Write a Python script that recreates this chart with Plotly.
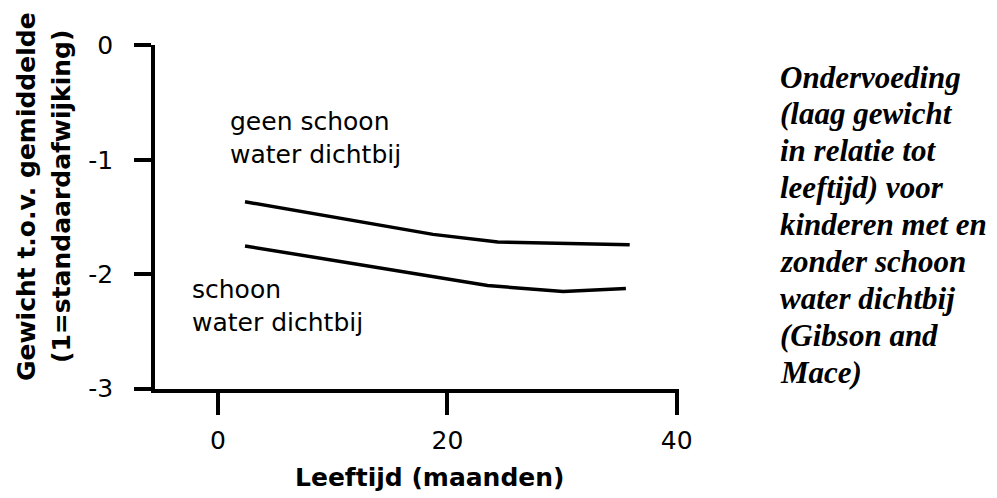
import plotly.graph_objects as go

# leeftijd in maanden, gewicht als z-score
age_geen = [2.35, 18.75, 24.4, 35.9]
z_geen = [-1.367, -1.652, -1.718, -1.742]

age_schoon = [2.35, 23.5, 30.1, 35.57]
z_schoon = [-1.753, -2.099, -2.151, -2.125]

x_ticks = [0, 20, 40]
y_ticks = [0, -1, -2, -3]
y_labels = ['0', '-1', '-2', '-3']

side_lines = ["Ondervoeding", "(laag gewicht", "in relatie tot", "leeftijd) voor",
              "kinderen met en", "zonder schoon", "water dichtbij", "(Gibson and", "Mace)"]

# de pagina heeft 8px body-marge, dus figuur iets kleiner en marges 8px minder
PAD = 8
W, H = 997 - PAD, 498 - PAD
L, R, T, B = 155 - PAD, 318, 45 - PAD, 109
pw, ph = W - L - R, H - T - B


# schermpixels -> paper coordinaten
def px(x):
    return (x - PAD - L) / pw


def py(y):
    return (H - B - (y - PAD)) / ph


fig = go.Figure()
fig.add_trace(go.Scatter(x=age_geen, y=z_geen, mode='lines',
                         line=dict(color='black', width=3.5), showlegend=False))
fig.add_trace(go.Scatter(x=age_schoon, y=z_schoon, mode='lines',
                         line=dict(color='black', width=3.5), showlegend=False))

sans = 'DejaVu Sans'
annos = []
# labels bij de lijnen
annos.append(dict(x=px(228), y=py(138), xref='paper', yref='paper', xanchor='left', yanchor='middle',
                  text='geen schoon<br>water dichtbij', align='left', showarrow=False,
                  font=dict(family=sans, size=25, color='black')))
annos.append(dict(x=px(190), y=py(306), xref='paper', yref='paper', xanchor='left', yanchor='middle',
                  text='schoon<br>water dichtbij', align='left', showarrow=False,
                  font=dict(family=sans, size=25, color='black')))
# y-as titel, twee regels
for xpos, s in [(26, 'Gewicht t.o.v. gemiddelde'), (61, '(1=standaardafwijking)')]:
    annos.append(dict(x=px(xpos), y=py(197), xref='paper', yref='paper', xanchor='center',
                      yanchor='middle', text='<b>' + s + '</b>', textangle=-90, showarrow=False,
                      font=dict(family=sans, size=25, color='black')))
# x-as titel
annos.append(dict(x=px(430), y=py(477), xref='paper', yref='paper', xanchor='center', yanchor='middle',
                  text='<b>Leeftijd (maanden)</b>', showarrow=False,
                  font=dict(family=sans, size=25, color='black')))
# tekst rechts
for i, s in enumerate(side_lines):
    base = 89 + 36.9 * i
    annos.append(dict(x=px(778), y=py(base - 12), xref='paper', yref='paper', xanchor='left',
                      yanchor='middle', text='<b><i>' + s + '</i></b>', showarrow=False,
                      font=dict(family='Liberation Serif', size=31, color='black')))

fig.update_layout(
    width=W, height=H,
    margin=dict(l=L, r=R, t=T, b=B),
    paper_bgcolor='white', plot_bgcolor='white',
    annotations=annos,
    xaxis=dict(range=[-5.5, 40.2], tickvals=x_ticks, showgrid=False, zeroline=False,
               showline=True, linecolor='black', linewidth=3.5,
               ticks='outside', ticklen=22, tickwidth=3.5, tickcolor='black',
               ticklabelstandoff=4,
               tickfont=dict(family=sans, size=25, color='black')),
    yaxis=dict(range=[-3.003, 0.003], tickvals=y_ticks, ticktext=y_labels,
               showgrid=False, zeroline=False,
               showline=True, linecolor='black', linewidth=3.5,
               ticks='outside', ticklen=17, tickwidth=3.5, tickcolor='black',
               ticklabelstandoff=16,
               tickfont=dict(family=sans, size=25, color='black')),
)

fig.write_html("out.html")
